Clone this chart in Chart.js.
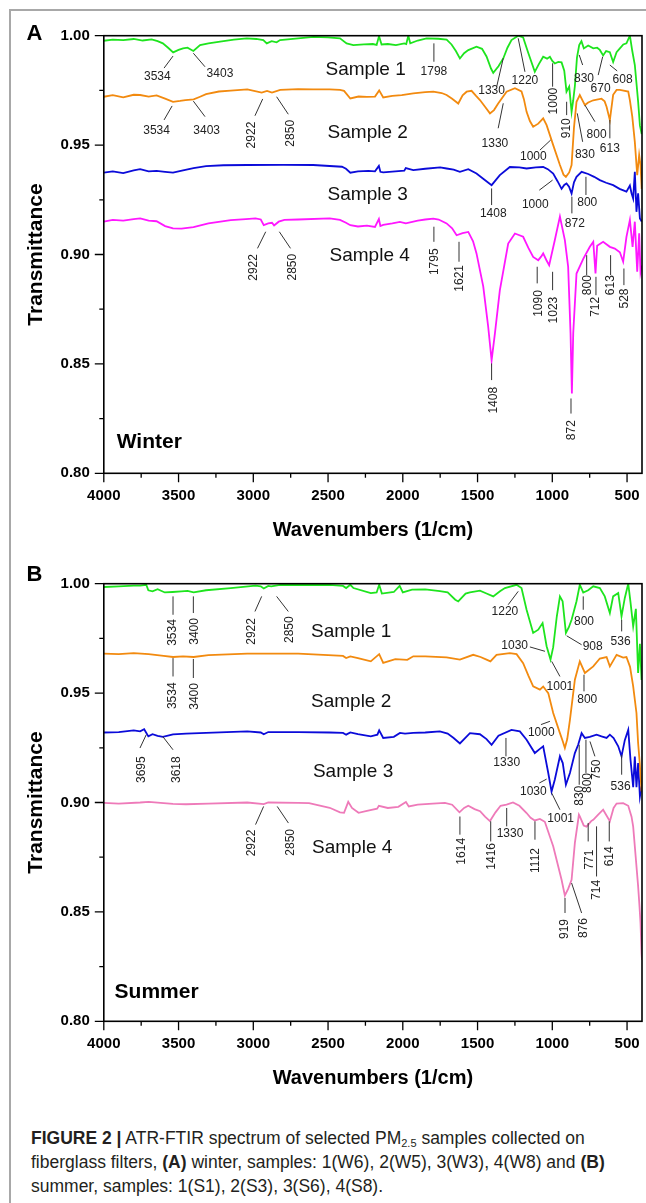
<!DOCTYPE html>
<html>
<head>
<meta charset="utf-8">
<script src="https://cdn.jsdelivr.net/npm/chart.js@4.4.1/dist/chart.umd.min.js"></script>
<style>
  html, body { margin: 0; padding: 0; background: #fff; }
  body { width: 646px; height: 1203px; position: relative; overflow: hidden; font-family: "Liberation Sans", Arial, sans-serif; }
  #frame { position: absolute; left: 9px; top: 9px; width: 700px; height: 1250px; border-left: 2px solid #a8a8a8; border-top: 2px solid #a8a8a8; }
  canvas { position: absolute; left: 0; }
  #winterChart { top: 0; }
  #summerChart { top: 548.3px; }
  #caption { position: absolute; left: 31px; top: 1126px; font-size: 17.5px; line-height: 24px; color: #231f20; white-space: nowrap; }
  #caption sub { font-size: 11px; vertical-align: -3px; line-height: 0; }
</style>
</head>
<body>
<div id="frame"></div>
<canvas id="winterChart" width="646" height="548"></canvas>
<canvas id="summerChart" width="646" height="548"></canvas>
<div id="caption"><b>FIGURE 2 |</b> ATR-FTIR spectrum of selected PM<sub>2.5</sub> samples collected on<br>fiberglass filters, <b>(A)</b> winter, samples: 1(W6), 2(W5), 3(W3), 4(W8) and <b>(B)</b><br>summer, samples: 1(S1), 2(S3), 3(S6), 4(S8).</div>
<script>
// ---- axes ----
const xTicks = [500, 1000, 1500, 2000, 2500, 3000, 3500, 4000];
const xMinorTicks = [750, 1250, 1750, 2250, 2750, 3250, 3750];
const yTicks = [0.80, 0.85, 0.90, 0.95, 1.00];
const yMinorTicks = [0.825, 0.875, 0.925, 0.975];
const sampleNames = ['Sample 1', 'Sample 2', 'Sample 3', 'Sample 4'];

// ---- winter (A) spectra ----
const winter1Wn = [4000,3940,3870,3800,3740,3680,3640,3605,3570,3536,3500,3470,3440,3401,3356,3300,3222,3130,3044,2980,2933,2910,2877,2844,2821,2700,2598,2500,2420,2376,2331,2260,2200,2175,2159,2142,2100,2046,1990,1977,1963,1950,1900,1841,1763,1707,1674,1645,1618,1590,1562,1507,1470,1440,1410,1395,1360,1328,1300,1273,1228,1195,1160,1117,1090,1061,1035,1016,1000,983,960,938,920,905,887,871,860,849,835,820,805,789,760,726,700,682,660,640,615,593,570,548,525,504,481,465,448,426,414,402];
const winter1T = [.9977,.9982,.998,.9985,.9978,.9983,.9975,.9965,.9945,.9924,.9935,.9942,.9945,.993,.9957,.9965,.9973,.9982,.9988,.9985,.998,.9965,.9975,.997,.998,.9988,.9995,.9992,.9988,.9965,.9957,.996,.9962,.9958,.9998,.996,.9962,.9957,.9965,.9962,1.0,.9965,.9978,.9988,.9986,.9982,.996,.993,.9896,.992,.9934,.995,.994,.9905,.985,.983,.986,.9896,.9945,.998,1.0,.9992,.992,.9835,.987,.9904,.9895,.9904,.9885,.9873,.988,.9878,.984,.9744,.9767,.9652,.9705,.977,.99,.9957,.9975,.9942,.9955,.9942,.9945,.9935,.991,.993,.9925,.988,.9925,.9942,.996,.9965,1.0,.993,.9866,.970,.959,.955];

const winter2Wn = [4000,3940,3870,3800,3757,3700,3647,3590,3537,3490,3454,3399,3360,3316,3230,3151,3040,2944,2908,2875,2820,2700,2600,2489,2420,2393,2351,2296,2240,2186,2158,2131,2070,2007,1930,1850,1796,1740,1707,1670,1629,1600,1573,1540,1510,1484,1450,1417,1390,1362,1306,1250,1206,1190,1172,1150,1128,1094,1061,1038,994,949,925,909,887,871,855,838,816,782,760,726,671,650,637,615,593,570,548,492,481,465,448,432,419,410,402];
const winter2T = [.9721,.9728,.9718,.973,.9729,.9722,.9727,.9712,.9698,.9702,.9706,.9709,.972,.9733,.9745,.9749,.9755,.974,.9748,.974,.9752,.9756,.9755,.9755,.9752,.9748,.9713,.9722,.972,.9722,.975,.9718,.9725,.9728,.9736,.9742,.9744,.9738,.9729,.9712,.969,.9728,.9744,.9748,.9725,.9706,.9675,.9645,.966,.969,.9744,.976,.9745,.971,.9652,.961,.9584,.9598,.9622,.9591,.95,.9409,.9365,.9355,.9375,.9409,.958,.9698,.9729,.9683,.9695,.9705,.9712,.970,.9675,.9614,.973,.9752,.9752,.9745,.9705,.963,.9515,.9363,.9455,.941,.93];

const winter3Wn = [4000,3940,3870,3800,3757,3700,3647,3590,3537,3470,3400,3316,3200,3040,2800,2600,2407,2380,2351,2300,2230,2186,2160,2150,2131,2050,1990,1980,1930,1850,1750,1707,1660,1618,1562,1507,1460,1406,1351,1284,1220,1172,1110,1061,1030,994,965,938,920,905,888,871,855,838,804,760,720,682,640,593,550,504,481,470,459,448,437,426,414,402];
const winter3T = [.9374,.938,.9372,.9385,.939,.938,.9382,.9378,.9374,.9385,.9395,.9404,.9408,.9409,.941,.9409,.9401,.9392,.9374,.938,.9382,.938,.9405,.9378,.9375,.938,.9383,.9395,.9386,.9392,.9398,.9393,.9388,.9378,.939,.937,.9345,.9317,.9363,.94,.9398,.9393,.9398,.94,.939,.937,.9335,.930,.9318,.9325,.931,.9279,.933,.9355,.9378,.9368,.9355,.934,.9328,.9317,.930,.9287,.9315,.928,.9256,.9378,.9195,.928,.9165,.915];

const winter4Wn = [4000,3940,3870,3800,3757,3700,3647,3590,3537,3480,3400,3300,3151,3050,2985,2950,2930,2900,2875,2861,2830,2792,2700,2489,2420,2380,2351,2300,2240,2186,2160,2150,2131,2070,2019,1980,1900,1850,1796,1760,1707,1670,1640,1600,1562,1530,1507,1462,1429,1406,1384,1351,1295,1250,1195,1160,1128,1094,1075,1061,1040,1021,983,949,916,894,878,869,860,838,793,749,726,711,700,660,615,582,548,526,504,481,463,448,432,419,410,402];
const winter4T = [.915,.9158,.9155,.9162,.9165,.9155,.9152,.913,.9119,.9118,.9125,.9142,.9157,.9162,.9165,.916,.9134,.9142,.9145,.9133,.915,.9158,.916,.9165,.9158,.9145,.9134,.9128,.9132,.9126,.9162,.913,.9135,.9142,.9149,.9142,.9155,.916,.9164,.916,.9142,.912,.9088,.9098,.9103,.906,.9005,.8854,.8671,.8516,.8638,.8836,.905,.9096,.9081,.903,.8989,.8974,.899,.9005,.8975,.8951,.9066,.9173,.9066,.8944,.864,.8365,.864,.8913,.898,.9035,.9058,.8913,.904,.9058,.9035,.9027,.901,.8967,.9081,.9158,.9035,.915,.8921,.9097,.8921,.895];

// ---- summer (B) spectra ----
const summer1Wn = [4000,3900,3800,3757,3716,3702,3674,3640,3592,3540,3481,3440,3399,3316,3151,2985,2950,2930,2900,2880,2820,2700,2489,2400,2379,2351,2330,2214,2175,2158,2140,2060,2021,2000,1938,1850,1752,1700,1649,1629,1580,1551,1484,1440,1395,1350,1317,1239,1206,1172,1128,1094,1065,1038,1012,994,970,949,931,909,890,871,838,816,793,760,726,682,649,615,593,559,537,515,492,477,459,441,426,414,403];
const summer1T = [.9985,.9988,.9991,.9991,.9995,.997,.9965,.9975,.996,.9962,.9965,.9967,.996,.997,.998,.9991,.9988,.9978,.999,.9988,.9995,.9994,.9995,.999,.998,.9995,.998,.9957,.996,.9995,.9955,.9962,.999,.996,.9973,.9974,.9966,.996,.9927,.9919,.9955,.996,.9968,.9955,.9942,.9965,.998,.9995,.998,.9881,.9775,.979,.982,.9714,.9653,.971,.985,.9942,.992,.9775,.980,.9835,.992,.9995,.996,.997,.9988,.998,.9942,.9866,.9942,.9957,.9851,.9935,1.0,.9916,.9805,.9885,.9592,.9725,.956];

const summer2Wn = [4000,3900,3800,3700,3600,3537,3470,3399,3300,3040,2700,2400,2379,2351,2300,2214,2158,2131,2050,1970,1930,1850,1707,1618,1529,1480,1440,1414,1373,1284,1239,1195,1160,1128,1083,1061,1027,994,949,930,916,900,882,849,816,782,726,682,637,615,570,526,504,480,459,437,426,415,403];
const summer2T = [.968,.9678,.9683,.9678,.967,.9665,.9668,.9665,.9674,.968,.968,.967,.966,.9668,.966,.9645,.9678,.9638,.9655,.9652,.9668,.9668,.9663,.9653,.9675,.9665,.9653,.9645,.9675,.9683,.9678,.9637,.958,.9531,.9516,.953,.95,.9409,.9317,.928,.9249,.929,.9378,.9561,.9645,.9592,.9622,.9658,.9665,.9622,.9675,.9662,.9665,.962,.9531,.9409,.9272,.918,.905];

const summer3Wn = [4000,3900,3800,3757,3730,3702,3674,3640,3605,3537,3450,3316,3040,2950,2930,2900,2700,2489,2400,2379,2351,2300,2214,2170,2158,2131,2060,2019,1985,1930,1850,1752,1700,1660,1618,1551,1484,1440,1406,1360,1273,1217,1172,1117,1083,1061,1027,1005,983,949,930,909,882,849,827,804,782,749,704,671,637,615,590,559,537,515,492,477,459,448,437,426,414,403];
const summer3T = [.932,.9322,.933,.9325,.9335,.9302,.9312,.9305,.930,.9311,.9315,.9318,.9325,.932,.9312,.9322,.9322,.932,.9318,.931,.932,.9312,.9302,.931,.933,.9295,.930,.9318,.9315,.9318,.932,.9325,.9315,.9295,.927,.9317,.9312,.929,.9264,.9305,.9332,.9325,.9287,.9226,.9245,.9257,.9135,.905,.9105,.9211,.918,.9081,.9135,.9226,.9264,.9317,.9295,.930,.931,.9302,.9295,.931,.9295,.9257,.9211,.9285,.9332,.9196,.907,.921,.907,.918,.9028,.9074];

const summer4Wn = [4000,3900,3757,3700,3600,3537,3450,3300,3040,2930,2900,2700,2627,2489,2420,2393,2365,2340,2296,2240,2172,2160,2100,2030,1979,1960,1900,1800,1718,1670,1621,1590,1562,1520,1483,1450,1417,1380,1346,1306,1263,1220,1172,1145,1117,1083,1050,994,938,916,894,871,849,822,816,790,771,740,726,693,660,615,590,570,526,492,470,459,442,426,417,410,403,400];
const summer4T = [.8998,.8995,.900,.9003,.8997,.8994,.8992,.8995,.900,.8993,.900,.8998,.8997,.8976,.8955,.8953,.9003,.8975,.8953,.8962,.8972,.8985,.8975,.898,.9002,.8982,.899,.8995,.8998,.899,.8955,.8975,.8985,.897,.896,.8935,.8915,.8955,.8985,.899,.900,.8985,.8952,.893,.8918,.8925,.8912,.880,.8647,.8575,.8605,.8647,.8815,.8944,.8936,.8895,.889,.8915,.8921,.8945,.8967,.8914,.8975,.8995,.8997,.8985,.8935,.889,.875,.8618,.8528,.845,.8311,.828];

// ---- peak annotations: [label, line x1, y1, line x2, y2, text x, text y, rotated] (cm-1, transmittance) ----
const winterPeaks = [
  ['3534', 3537, .9907, 3597, .9852, 3642, .9811, 0],
  ['3403', 3401, .9920, 3323, .9858, 3223, .9825, 0],
  ['1798', 1792, .9965, 1792, .9881, 1792, .9835, 0],
  ['1330', 1328, .9897, 1372, .9767, 1406, .9747, 0],
  ['1220', 1228, .9988, 1183, .9835, 1183, .9793, 0],
  ['1000', 998, .9874, 998, .9767, 994, .9701, 1],
  ['910', 904, .9698, 904, .9637, 904, .9577, 1],
  ['830', 820, .9912, 797, .9866, 788, .9802, 0],
  ['670', 663, .9904, 693, .9820, 677, .9756, 0],
  ['608', 615, .9866, 566, .9839, 530, .9797, 0],
  ['3534', 3543, .9679, 3597, .9615, 3647, .9566, 0],
  ['3403', 3401, .9701, 3323, .9630, 3312, .9567, 0],
  ['2922', 2937, .9711, 2989, .9634, 3011, .9546, 1],
  ['2850', 2844, .9721, 2766, .9641, 2750, .9554, 1],
  ['1330', 1328, .9691, 1362, .9577, 1384, .9508, 0],
  ['1000', 1083, .9477, 1011, .9523, 1127, .9447, 0],
  ['830', 833, .9645, 797, .9515, 782, .9458, 0],
  ['800', 782, .9683, 715, .9607, 704, .9546, 0],
  ['613', 615, .9615, 615, .9531, 615, .9482, 0],
  ['1408', 1406, .9302, 1406, .9226, 1395, .9188, 0],
  ['1000', 1087, .9294, 998, .9340, 1114, .9226, 0],
  ['872', 869, .9264, 869, .9188, 849, .9139, 0],
  ['800', 775, .9355, 775, .9272, 766, .9236, 0],
  ['2922', 2917, .9104, 2972, .9028, 3000, .8941, 1],
  ['2850', 2826, .9104, 2751, .9028, 2738, .8942, 1],
  ['1795', 1792, .9127, 1792, .9058, 1785, .8967, 1],
  ['1621', 1624, .9058, 1624, .8967, 1618, .8891, 1],
  ['1408', 1406, .8502, 1406, .8426, 1395, .8334, 1],
  ['1090', 1101, .8944, 1101, .8868, 1094, .8776, 1],
  ['1023', 998, .8921, 998, .8837, 989, .8746, 1],
  ['872', 875, .8342, 875, .8273, 871, .8197, 1],
  ['800', 770, .8997, 770, .8906, 760, .8860, 1],
  ['712', 708, .8898, 708, .8814, 708, .8761, 1],
  ['613', 610, .8997, 610, .8906, 608, .8860, 1],
  ['528', 521, .8936, 521, .8860, 514, .8799, 1]
];
const summerPeaks = [
  ['3534', 3537, .9942, 3537, .9858, 3537, .9777, 1],
  ['3400', 3401, .9942, 3401, .9866, 3390, .9782, 1],
  ['2922', 2944, .9942, 2989, .9873, 3011, .9782, 1],
  ['2850', 2844, .9942, 2766, .9873, 2755, .9790, 1],
  ['1220', 1228, .9965, 1295, .9904, 1317, .9873, 0],
  ['800', 793, .9942, 793, .9881, 788, .9828, 0],
  ['908', 904, .9762, 804, .9721, 730, .9711, 0],
  ['536', 536, .9835, 536, .9782, 543, .9736, 0],
  ['1030', 1150, .9711, 1049, .9691, 1252, .9717, 0],
  ['1001', 1004, .9645, 949, .9576, 949, .9528, 0],
  ['3534', 3537, .9660, 3537, .9576, 3537, .9488, 1],
  ['3400', 3401, .9656, 3401, .9569, 3390, .9485, 1],
  ['800', 788, .9584, 788, .9508, 766, .9470, 0],
  ['1000', 1076, .9356, 1016, .9371, 1074, .9320, 0],
  ['3695', 3716, .9310, 3758, .9249, 3745, .9150, 1],
  ['3618', 3606, .9302, 3537, .9241, 3510, .9150, 1],
  ['1330', 1310, .9295, 1310, .9211, 1305, .9181, 0],
  ['1030', 1087, .9089, 1038, .9107, 1127, .9051, 0],
  ['1001', 1004, .9043, 949, .8967, 944, .8925, 0],
  ['830', 820, .9264, 820, .9081, 820, .9031, 1],
  ['800', 775, .9287, 775, .9135, 760, .9089, 1],
  ['750', 748, .9279, 715, .9211, 704, .9150, 1],
  ['536', 536, .9218, 536, .9127, 543, .9074, 0],
  ['2922', 2931, .8982, 2985, .8899, 3008, .8815, 1],
  ['2850', 2840, .8982, 2765, .8906, 2748, .8818, 1],
  ['1614', 1618, .8936, 1618, .8853, 1606, .8777, 1],
  ['1416', 1412, .8914, 1412, .8822, 1406, .8754, 1],
  ['1330', 1305, .8975, 1305, .8891, 1283, .8857, 0],
  ['1112', 1116, .8914, 1116, .8830, 1111, .8735, 1],
  ['919', 915, .8564, 915, .8495, 915, .8422, 1],
  ['876', 871, .8632, 804, .8495, 788, .8426, 1],
  ['771', 760, .8906, 760, .8822, 748, .8739, 1],
  ['714', 704, .8891, 704, .8662, 700, .8601, 1],
  ['614', 619, .8914, 619, .8822, 615, .8754, 1]
];

// where the "Sample n" names sit (left edge cm-1, centre transmittance)
const winterNameWn = [2517, 2503, 2503, 2490];
const winterNameT = [.9843, .9555, .9272, .8993];
const summerNameWn = [2614, 2614, 2601, 2607];
const summerNameT = [.9781, .9461, .9141, .8793];

const FONT = '"Liberation Sans", Arial, sans-serif';
Chart.defaults.font.family = FONT;
Chart.defaults.color = '#000';

function series(wn, t) {
  return wn.map((w, i) => ({ x: w, y: t[i] }));
}

const overlay = {
  id: 'overlay',
  afterDraw(chart, args, o) {
    const { ctx, chartArea: a, scales: { x, y } } = chart;
    ctx.save();
    // frame + tick marks
    ctx.strokeStyle = '#000';
    ctx.lineWidth = 1.6;
    ctx.strokeRect(a.left, a.top, a.right - a.left, a.bottom - a.top);
    ctx.lineWidth = 1.3;
    ctx.beginPath();
    xTicks.forEach(v => { const p = x.getPixelForValue(v); ctx.moveTo(p, a.bottom); ctx.lineTo(p, a.bottom + 9); });
    xMinorTicks.forEach(v => { const p = x.getPixelForValue(v); ctx.moveTo(p, a.bottom); ctx.lineTo(p, a.bottom + 4.5); });
    yTicks.forEach(v => { const p = y.getPixelForValue(v); ctx.moveTo(a.left, p); ctx.lineTo(a.left - 9, p); });
    yMinorTicks.forEach(v => { const p = y.getPixelForValue(v); ctx.moveTo(a.left, p); ctx.lineTo(a.left - 4.5, p); });
    ctx.stroke();

    // peak labels
    ctx.strokeStyle = '#333';
    ctx.lineWidth = 1;
    ctx.fillStyle = '#222';
    ctx.font = '12px ' + FONT;
    ctx.textAlign = 'center';
    ctx.textBaseline = 'middle';
    o.peaks.forEach(p => {
      ctx.beginPath();
      ctx.moveTo(x.getPixelForValue(p[1]), y.getPixelForValue(p[2]));
      ctx.lineTo(x.getPixelForValue(p[3]), y.getPixelForValue(p[4]));
      ctx.stroke();
      const tx = x.getPixelForValue(p[5]), ty = y.getPixelForValue(p[6]);
      if (p[7]) {
        ctx.save();
        ctx.translate(tx, ty);
        ctx.rotate(-Math.PI / 2);
        ctx.fillText(p[0], 0, 0);
        ctx.restore();
      } else {
        ctx.fillText(p[0], tx, ty);
      }
    });

    // sample names
    ctx.fillStyle = '#111';
    ctx.font = '19px ' + FONT;
    ctx.textAlign = 'left';
    sampleNames.forEach((s, i) => {
      ctx.fillText(s, x.getPixelForValue(o.nameWn[i]), y.getPixelForValue(o.nameT[i]));
    });

    // season + panel letter
    ctx.fillStyle = '#000';
    ctx.font = 'bold 21px ' + FONT;
    ctx.fillText(o.season, x.getPixelForValue(o.seasonWn), y.getPixelForValue(o.seasonT));
    ctx.font = 'bold 22px ' + FONT;
    ctx.textAlign = 'center';
    ctx.fillText(o.letter, 34.4, o.letterY);
    ctx.restore();
  }
};

function makeChart(id, sets, colors, extra) {
  return new Chart(document.getElementById(id), {
    type: 'line',
    data: {
      datasets: sets.map((s, i) => ({
        label: sampleNames[i], data: s, borderColor: colors[i],
        borderWidth: 1.8, pointRadius: 0, tension: 0, fill: false
      }))
    },
    options: {
      responsive: false,
      animation: false,
      devicePixelRatio: 1,
      layout: { padding: { left: 0, top: 35.7, right: 4, bottom: 0 } },
      plugins: { legend: { display: false }, tooltip: { enabled: false }, overlay: extra },
      scales: {
        x: {
          type: 'linear', reverse: true, min: 400, max: 4000,
          afterFit: s => { s.height = 74.7; },
          afterBuildTicks: s => { s.ticks = xTicks.map(v => ({ value: v })); },
          grid: { display: false, drawTicks: false },
          border: { display: false },
          ticks: { padding: 14, maxRotation: 0, autoSkip: false, color: '#000', font: { size: 15, weight: 'bold' }, callback: v => String(v) },
          title: { display: true, text: 'Wavenumbers (1/cm)', color: '#000', font: { size: 20, weight: 'bold' }, padding: { top: 0, bottom: 6 } }
        },
        y: {
          min: 0.8, max: 1.0,
          afterFit: s => { s.width = 103.8; },
          afterBuildTicks: s => { s.ticks = yTicks.map(v => ({ value: v })); },
          grid: { display: false, drawTicks: false },
          border: { display: false },
          ticks: { padding: 14, color: '#000', font: { size: 15, weight: 'bold' }, callback: v => v.toFixed(2) },
          title: { display: true, text: 'Transmittance', color: '#000', font: { size: 21, weight: 'bold' }, padding: { top: 24, bottom: 0 } }
        }
      }
    },
    plugins: [overlay]
  });
}

makeChart('winterChart',
  [series(winter1Wn, winter1T), series(winter2Wn, winter2T), series(winter3Wn, winter3T), series(winter4Wn, winter4T)],
  ['#1ee41e', '#f28a0f', '#0b0bd9', '#ff17ff'],
  { peaks: winterPeaks, nameWn: winterNameWn, nameT: winterNameT, season: 'Winter', seasonWn: 3914, seasonT: .8142, letter: 'A', letterY: 34 });

makeChart('summerChart',
  [series(summer1Wn, summer1T), series(summer2Wn, summer2T), series(summer3Wn, summer3T), series(summer4Wn, summer4T)],
  ['#1ee41e', '#f28a0f', '#0b0bd9', '#ee7ab9'],
  { peaks: summerPeaks, nameWn: summerNameWn, nameT: summerNameT, season: 'Summer', seasonWn: 3928, seasonT: .8131, letter: 'B', letterY: 26.7 });
</script>
</body>
</html>
